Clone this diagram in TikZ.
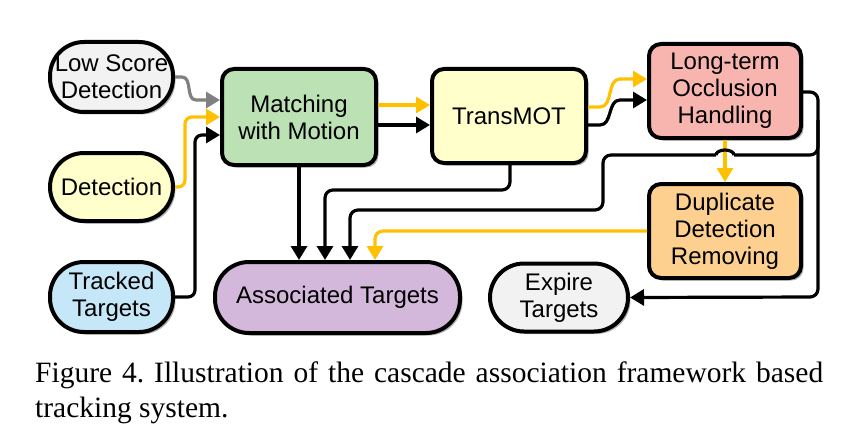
\documentclass[tikz,border=0pt]{standalone}
\usepackage{fontspec}
\setmainfont{Liberation Serif}
\newfontfamily\nodefont{Liberation Sans}
\usetikzlibrary{arrows.meta,shadows}
\frenchspacing
\definecolor{cOrange}{HTML}{FFC000}
\definecolor{cGrayLine}{HTML}{808080}
\definecolor{cLight}{HTML}{F2F2F2}
\definecolor{cYellow}{HTML}{FFFFCC}
\definecolor{cBlue}{HTML}{C6E7F7}
\definecolor{cGreen}{HTML}{BBE1B4}
\definecolor{cRed}{HTML}{F8B5B0}
\definecolor{cPeach}{HTML}{FDD08F}
\definecolor{cPurple}{HTML}{D4B8DB}
\tikzset{
  box/.style={draw=black, line width=4pt, rounded corners=12pt, align=center,
    font=\nodefont\fontsize{24}{27}\selectfont, inner sep=0pt,
    drop shadow={shadow xshift=2.5pt, shadow yshift=-2.5pt, opacity=0.3, fill=black}},
  pill/.style={box, rounded corners=34pt},
  conn/.style={line width=3.2pt, line join=round, -{Triangle[length=14pt,width=16pt]}},
  plain/.style={line width=3.2pt, line join=round},
}
\begin{document}
\begin{tikzpicture}[x=1pt,y=-1pt]
\useasboundingbox (0,0) rectangle (861,433);
% nodes
\node[pill, fill=cLight, minimum width=123pt, minimum height=70pt] (low) at (111.5,77) {Low Score\\Detection};
\node[pill, fill=cYellow, minimum width=123pt, minimum height=68pt] (det) at (111.5,187) {Detection};
\node[pill, fill=cBlue, minimum width=123pt, minimum height=70pt] (trk) at (111.5,297) {Tracked\\Targets};
\node[box, fill=cGreen, minimum width=154pt, minimum height=96pt] (mat) at (299,117) {Matching\\with Motion};
\node[box, fill=cYellow, minimum width=154pt, minimum height=94pt] (tra) at (509,116) {TransMOT};
\node[box, fill=cRed, minimum width=152pt, minimum height=94pt] (lon) at (725,91) {Long-term\\Occlusion\\Handling};
\node[box, fill=cPeach, minimum width=152pt, minimum height=94pt] (dup) at (725,231) {Duplicate\\Detection\\Removing};
\node[pill, fill=cPurple, minimum width=245pt, minimum height=71pt] (ass) at (337.5,297.5) {Associated Targets};
\node[pill, fill=cLight, minimum width=138pt, minimum height=68pt] (exp) at (559,297.5) {Expire\\Targets};
% inputs to matching
\draw[conn, draw=cGrayLine] (low.east) -- ++(7,0) to[out=0,in=180] ++(14,23) -- ([yshift=17pt]mat.west);
\draw[conn, draw=cOrange, rounded corners=7pt] (det.east) -- ++(10,0) |- (mat.west);
\draw[conn, rounded corners=7pt] (trk.east) -- ++(20,0) |- ([yshift=-18pt]mat.west);
% matching to transmot
\draw[conn, draw=cOrange] ([yshift=12pt]mat.east) -- ([yshift=12pt]mat.east -| tra.west);
\draw[conn] ([yshift=-8pt]mat.east) -- ([yshift=-8pt]mat.east -| tra.west);
% transmot to long-term
\draw[conn, draw=cOrange] ([yshift=9pt]tra.east) -- ++(12,0) to[out=0,in=180] ++(20,-28) -- ([yshift=12pt]lon.west);
\draw[conn] ([yshift=-9pt]tra.east) -- ++(12,0) to[out=0,in=180] ++(20,-25) -- ([yshift=-9pt]lon.west);
% long-term to duplicate
\draw[conn, draw=cOrange] (lon.south) -- (dup.north);
% long-term to expire
\coordinate (rA) at (818,92);
\coordinate (rB) at (818,297);
\draw[conn, rounded corners=8pt] ([yshift=-1pt]lon.east) -- (rA) -- (rB) -- (exp.east);
% long-term to associated (with hop)
\coordinate (bA) at (818,120);
\coordinate (bB) at (818,155);
\coordinate (bC) at (734,155);
\coordinate (bD) at (716,155);
\coordinate (bE) at (603,155);
\coordinate (bF) at (603,210);
\coordinate (bG) at (350,210);
\draw[plain] (bC) arc[start angle=0, end angle=180, x radius=9pt, y radius=5pt];
\draw[plain, rounded corners=8pt] (bA) -- (bB) -- (bC);
\draw[conn, rounded corners=8pt] (bD) -- (bE) -- (bF) -- (bG) -- (bG |- ass.north);
% transmot to associated
\coordinate (tA) at (510,190);
\coordinate (tB) at (325,190);
\draw[conn, rounded corners=8pt] (tra.south -| tA) -- (tA) -- (tB) -- (tB |- ass.north);
% matching to associated
\draw[conn] (mat.south) -- (mat.south |- ass.north);
% duplicate to associated
\coordinate (dA) at (375,231);
\draw[conn, draw=cOrange, rounded corners=8pt] (dup.west) -- (dA) -- (dA |- ass.north);
% caption
\node[anchor=base west, inner sep=0pt, font=\fontsize{29.5}{35}\selectfont] (cap1) at (35,382)
  {\hbox to 788pt{Figure 4. Illustration of the cascade association framework based}};
\node[anchor=base west, inner sep=0pt, font=\fontsize{29.5}{35}\selectfont] (cap2) at (35,417) {tracking system.};
\end{tikzpicture}
\end{document}
